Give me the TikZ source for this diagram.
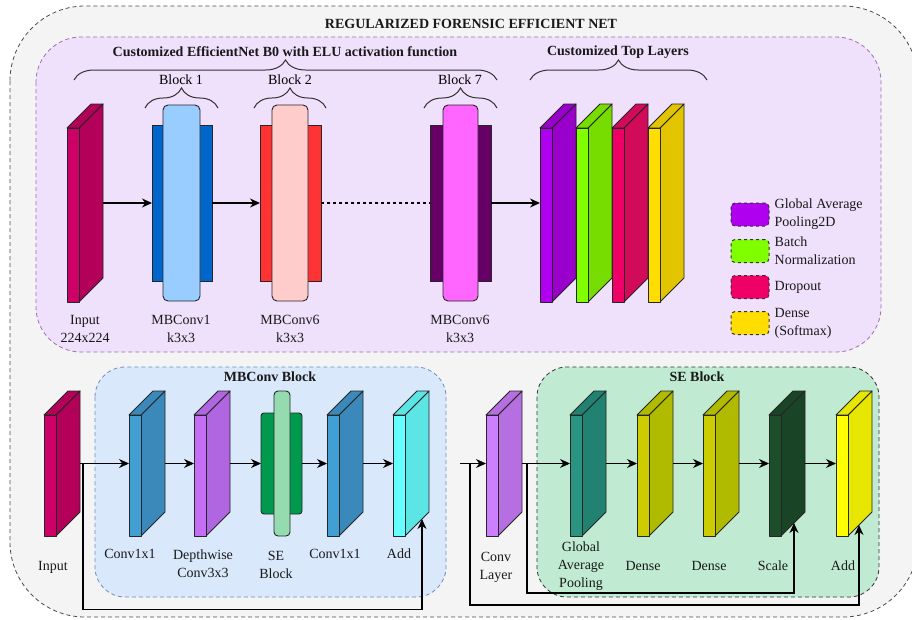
\documentclass[tikz,border=0pt]{standalone}
\usepackage{fontspec}
\setmainfont{Liberation Serif}
\usetikzlibrary{positioning,calc,arrows.meta,decorations.pathreplacing}

\definecolor{outerbg}{HTML}{F4F4F4}
\definecolor{bgpurple}{HTML}{EFE0FB}
\definecolor{boxpurple}{HTML}{9B6FB0}
\definecolor{bgblue}{HTML}{DAE8FC}
\definecolor{boxblue}{HTML}{6C8EBF}
\definecolor{bggreen}{HTML}{C0EBD2}
\definecolor{inpF}{HTML}{CC0066}
\definecolor{inpS}{HTML}{B30059}
\definecolor{gapF}{HTML}{B000F0}
\definecolor{gapS}{HTML}{9A00CC}
\definecolor{bnF}{HTML}{80FF00}
\definecolor{bnS}{HTML}{77DD00}
\definecolor{dropF}{HTML}{EE0066}
\definecolor{dropS}{HTML}{D10A5A}
\definecolor{denF}{HTML}{FFDD00}
\definecolor{denS}{HTML}{E3C400}
\definecolor{mbOneOut}{HTML}{0066CC}
\definecolor{mbOneIn}{HTML}{99CCFF}
\definecolor{mbSixOut}{HTML}{FF3333}
\definecolor{mbSixIn}{HTML}{FFCCCC}
\definecolor{mbSevOut}{HTML}{660066}
\definecolor{mbSevIn}{HTML}{FF66FF}
\definecolor{cvF}{HTML}{429FD4}
\definecolor{cvS}{HTML}{3A89BA}
\definecolor{dwF}{HTML}{C36EF5}
\definecolor{dwS}{HTML}{B066E0}
\definecolor{seOut}{HTML}{00994D}
\definecolor{seIn}{HTML}{94DBB0}
\definecolor{addF}{HTML}{66FFFF}
\definecolor{addS}{HTML}{5CE5E5}
\definecolor{clF}{HTML}{CC80FF}
\definecolor{clS}{HTML}{B56FE0}
\definecolor{tealF}{HTML}{2A9480}
\definecolor{tealS}{HTML}{218271}
\definecolor{olvF}{HTML}{CCCC00}
\definecolor{olvS}{HTML}{B0BB00}
\definecolor{scF}{HTML}{1E4D2B}
\definecolor{scS}{HTML}{1A4426}
\definecolor{yelF}{HTML}{FFFF00}
\definecolor{yelS}{HTML}{E6E600}

\tikzset{
  face/.style={draw=black!85, line width=0.9pt, line join=round},
  slabbox/.style={inner sep=0pt, outer sep=0pt, minimum width=36pt},
  blk/.style={draw=black!85, line width=0.9pt, inner sep=0pt, outer sep=0pt},
  lbl/.style={align=center, inner sep=1pt, text=black!90},
  heading/.style={font=\fontsize{14}{18}\selectfont\bfseries, text=black!90},
  bracepath/.style={decorate, decoration={brace, amplitude=20pt}, line width=1pt, draw=black!80},
  legbox/.style={draw=black!80, dashed, line width=1pt, rounded corners=4pt,
    minimum width=38pt, minimum height=23pt, inner sep=0pt},
  arr/.style={->, line width=1.1pt},
  grpbox/.style={dash pattern=on 4pt off 3pt, line width=0.8pt},
}

% 3d layer: name, x, y (top of front face), height, front colour, side colour
\newcommand{\layerslab}[6]{%
  \node[slabbox, minimum height=#4+24] (#1) at (#2+18, #3-12+#4/2) {};
  \filldraw[face, fill=#6] (#1.north east) -- ++(0,#4) -- ++(-24,24) -- ++(0,-#4) -- cycle;
  \filldraw[face, fill=#6] (#1.north east) -- ++(-12,0) -- ++(-24,24) -- ++(12,0) -- cycle;
  \filldraw[face, fill=#5] (#1.south west) rectangle ++(12,-#4);
}

\begin{document}
\begin{tikzpicture}[x=1pt,y=-1pt,>={Stealth[length=10pt,width=9pt]},font=\fontsize{14}{18}\selectfont]
\useasboundingbox (0,0) rectangle (912,619);
\clip (0,0) rectangle (912,619);

% outer frame
\draw[grpbox, draw=black!70, fill=outerbg, rounded corners=75pt] (10,6) rectangle (918,617);
\node[heading] (title) at (471,24) {REGULARIZED FORENSIC EFFICIENT NET};

% efficientnet part
\draw[grpbox, draw=boxpurple, fill=bgpurple, rounded corners=45pt] (36,37) rectangle (881,352);
\node[heading] (effhead) at (285,52) {Customized EfficientNet B0 with ELU activation function};
\node[heading] (tophead) at (618,52) {Customized Top Layers};
\draw[bracepath] (74,80) -- (497,80);
\draw[bracepath] (530,80) -- (707,80);

\layerslab{inp}{67}{128}{174}{inpF}{inpS}

\node[blk, fill=mbOneOut, minimum width=60pt, minimum height=156pt] (mb1) at (182,203) {};
\node[blk, fill=mbOneIn, rounded corners=5pt, minimum width=37pt, minimum height=196pt] (mb1in) at (181.5,203) {};
\node[blk, fill=mbSixOut, minimum width=61pt, minimum height=156pt] (mb6) at (290.5,203) {};
\node[blk, fill=mbSixIn, rounded corners=5pt, minimum width=36pt, minimum height=196pt] (mb6in) at (290,203) {};
\node[blk, fill=mbSevOut, minimum width=61pt, minimum height=156pt] (mb7) at (460.5,203) {};
\node[blk, fill=mbSevIn, rounded corners=5pt, minimum width=35pt, minimum height=196pt] (mb7in) at (460.5,203) {};

\node (blk1) at (181,80) {Block 1};
\node (blk2) at (290,80) {Block 2};
\node (blk7) at (460,80) {Block 7};
\draw[bracepath] (145,108) -- (218,108);
\draw[bracepath] (254,108) -- (326,108);
\draw[bracepath] (424,108) -- (497,108);

\layerslab{gp}{540}{128}{174}{gapF}{gapS}
\layerslab{bn}{576}{128}{174}{bnF}{bnS}
\layerslab{dr}{612}{128}{174}{dropF}{dropS}
\layerslab{dn}{648}{128}{174}{denF}{denS}

\draw[arr] (inp.east) -- (mb1.west);
\draw[arr] (mb1.east) -- (mb6.west);
\draw[dashed, line width=1.1pt] (mb6.east) -- (mb7.west);
\draw[arr] (mb7.east) -- (gp.west);

\node[lbl] (linp) at (85,329) {Input\\224x224};
\node[lbl] (lmb1) at (181,329) {MBConv1\\k3x3};
\node[lbl] (lmb6) at (290,329) {MBConv6\\k3x3};
\node[lbl] (lmb7) at (460,329) {MBConv6\\k3x3};

% legend
\node[legbox, fill=gapF] (lg1) at (750,214.5) {};
\node[legbox, fill=bnF] (lg2) at (750,251) {};
\node[legbox, fill=dropF] (lg3) at (750,287) {};
\node[legbox, fill=denF] (lg4) at (750,323) {};
\node[lbl, align=left, right=4pt of lg1] {Global Average\\Pooling2D};
\node[lbl, align=left, right=4pt of lg2] {Batch\\Normalization};
\node[lbl, align=left, right=4pt of lg3] {Dropout};
\node[lbl, align=left, right=4pt of lg4] {Dense\\(Softmax)};

% mbconv block
\draw[grpbox, draw=boxblue, fill=bgblue, rounded corners=30pt] (95,367) rectangle (446,597);
\node[heading] (mbhead) at (270,377) {MBConv Block};

\layerslab{inb}{44}{415}{121}{inpF}{inpS}
\layerslab{cva}{129}{415}{121}{cvF}{cvS}
\layerslab{dw}{194}{415}{121}{dwF}{dwS}
\node[blk, fill=seOut, rounded corners=3pt, minimum width=41pt, minimum height=101pt] (se) at (281.5,463.5) {};
\node[blk, fill=seIn, rounded corners=4pt, minimum width=16pt, minimum height=145pt] (sein) at (282,463.5) {};
\layerslab{cvb}{327}{415}{121}{cvF}{cvS}
\layerslab{ad}{393}{415}{121}{addF}{addS}

\draw[arr] (inb.east) -- (cva.west);
\draw[arr] (cva.east) -- (dw.west);
\draw[arr] (dw.east) -- (se.west);
\draw[arr] (se.east) -- (cvb.west);
\draw[arr] (cvb.east) -- (ad.west);
\draw[arr] ($(inb.east)+(3,0)$) -- ++(0,146) -| ($(ad.south east)+(-7,-17)$);

\node[lbl] at (53,567) {Input};
\node[lbl] at (130,554) {Conv1x1};
\node[lbl] at (203,564) {Depthwise\\Conv3x3};
\node[lbl] at (276,565) {SE\\Block};
\node[lbl] at (335,554) {Conv1x1};
\node[lbl] at (399,554) {Add};

% se block
\draw[grpbox, draw=black!80, fill=bggreen, rounded corners=30pt] (537,367) rectangle (879,597);
\node[heading] (sehead) at (697,377) {SE Block};

\coordinate (entry) at (460,463.5);
\layerslab{cl}{486}{415}{121}{clF}{clS}
\layerslab{gav}{570}{415}{121}{tealF}{tealS}
\layerslab{dsa}{637}{415}{121}{olvF}{olvS}
\layerslab{dsb}{703}{415}{121}{olvF}{olvS}
\layerslab{sc}{769}{415}{121}{scF}{scS}
\layerslab{ady}{836}{415}{121}{yelF}{yelS}

\draw[arr] (entry) -- (cl.west);
\draw[arr] (cl.east) -- (gav.west);
\draw[arr] (gav.east) -- (dsa.west);
\draw[arr] (dsa.east) -- (dsb.west);
\draw[arr] (dsb.east) -- (sc.west);
\draw[arr] (sc.east) -- (ady.west);
\draw[arr] ($(entry)+(10,0)$) -- ++(0,141.5) -| ($(ady.south east)+(-13,-11)$);
\draw[arr] ($(cl.east)+(5,0)$) -- ++(0,129.5) -| ($(sc.south east)+(-11,-13)$);

\node[lbl] at (496,567) {Conv\\Layer};
\node[lbl] at (581,566) {Global\\Average\\Pooling};
\node[lbl] at (643,566) {Dense};
\node[lbl] at (709,566) {Dense};
\node[lbl] at (773,566) {Scale};
\node[lbl] at (843,566) {Add};
\end{tikzpicture}
\end{document}
